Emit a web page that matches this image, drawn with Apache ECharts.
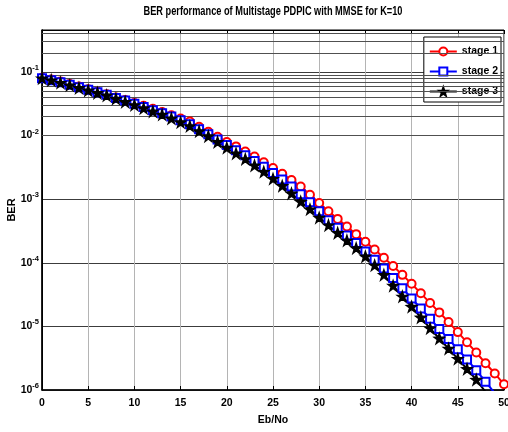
<!DOCTYPE html>
<html>
<head>
<meta charset="utf-8">
<script src="https://cdn.jsdelivr.net/npm/echarts@6/dist/echarts.min.js"></script>
<style>html,body{margin:0;padding:0;background:#fff;}#c{width:508px;height:432px;}</style>
</head>
<body>
<div id="c"></div>
<script>
const ebno = [0,1,2,3,4,5,6,7,8,9,10,11,12,13,14,15,16,17,18,19,20,21,22,23,24,25,26,27,28,29,30,31,32,33,34,35,36,37,38,39,40,41,42,43,44,45,46,47,48,49,50];
const stage1 = [0.0813,0.0759,0.0708,0.0646,0.0589,0.0537,0.0490,0.0447,0.0398,0.0363,0.0324,0.0295,0.0263,0.0234,0.0209,0.0186,0.0166,0.0138,0.0115,0.00955,0.00794,0.00676,0.00562,0.00468,0.00380,0.00309,0.00251,0.00200,0.00158,0.00117,0.000871,0.000646,0.000490,0.000372,0.000282,0.000214,0.000162,0.000120,8.91e-5,6.46e-5,4.68e-5,3.31e-5,2.34e-5,1.66e-5,1.17e-5,8.13e-6,5.62e-6,3.89e-6,2.63e-6,1.82e-6,1.23e-6];
const stage2 = [0.0794,0.0741,0.0692,0.0631,0.0575,0.0525,0.0479,0.0437,0.0389,0.0355,0.0316,0.0282,0.0251,0.0224,0.0200,0.0174,0.0151,0.0126,0.0105,0.00871,0.00708,0.00589,0.00490,0.00398,0.00324,0.00257,0.00204,0.00158,0.00120,0.000891,0.000646,0.000468,0.000355,0.000269,0.000204,0.000151,0.000112,8.13e-5,5.75e-5,3.98e-5,2.75e-5,1.91e-5,1.32e-5,9.12e-6,6.31e-6,4.37e-6,3.02e-6,2.04e-6,1.35e-6,8.91e-7,5.89e-7];
const stage3 = [0.0794,0.0741,0.0676,0.0617,0.0562,0.0513,0.0468,0.0427,0.0380,0.0339,0.0302,0.0269,0.0240,0.0214,0.0186,0.0162,0.0141,0.0117,0.00977,0.00794,0.00646,0.00525,0.00427,0.00339,0.00269,0.00209,0.00162,0.00123,0.000912,0.000692,0.000513,0.000389,0.000295,0.000224,0.000170,0.000126,9.12e-5,6.46e-5,4.37e-5,2.95e-5,2.04e-5,1.38e-5,9.33e-6,6.46e-6,4.47e-6,3.09e-6,2.14e-6,1.45e-6,9.33e-7,6.31e-7,4.27e-7];
const seriesNames = ['stage 1','stage 2','stage 3'];
const titleText = 'BER performance of Multistage PDPIC with MMSE for K=10';
const xName = 'Eb/No';
const yName = 'BER';
const yMin = 1e-6, yMax = 0.457;

const FONT = '"Liberation Sans",Arial,sans-serif';
const star = 'path://M50,0 L61.8,36.2 L100,38.2 L69.1,61.8 L80.9,100 L50,76.4 L19.1,100 L30.9,61.8 L0,38.2 L38.2,36.2 Z';

// minor log grid line positions (2..9 x 10^k)
const minorGrid = [];
for (let k = -6; k <= -1; k++) {
  for (let m = 2; m <= 9; m++) {
    const v = m * Math.pow(10, k);
    if (v < yMax) minorGrid.push({ yAxis: v });
  }
}

// title is drawn condensed (narrow font look): fit to reference width
const titleFont = 'bold 12px ' + FONT;
const cv = document.createElement('canvas').getContext('2d');
cv.font = titleFont;
const titleScale = 259 / cv.measureText(titleText).width;

const chart = echarts.init(document.getElementById('c'), null, { renderer: 'canvas' });
const mk = (name, data, color, symbol, size) => ({
  name: name, type: 'line',
  data: ebno.map((x, i) => [x, data[i]]),
  symbol: symbol, symbolSize: size,
  showAllSymbol: true,
  color: color,
  lineStyle: { color: color, width: 2 },
  itemStyle: { color: color, borderColor: color, borderWidth: 1.5 },
  clip: true, z: 5
});
chart.setOption({
  animation: false,
  backgroundColor: '#fff',
  textStyle: { fontFamily: FONT },
  graphic: [{
    type: 'text', x: 273, y: 12, scaleX: titleScale, silent: true,
    style: { text: titleText, font: titleFont, fill: '#000', textAlign: 'center', textVerticalAlign: 'middle', align: 'center', verticalAlign: 'middle' }
  }],
  grid: { left: 42, right: 4, top: 30, bottom: 42, outerBoundsMode: 'none', containLabel: false, show: true, borderColor: '#000', borderWidth: 1, backgroundColor: 'transparent' },
  legend: {
    data: seriesNames, orient: 'vertical', right: 7, top: 37,
    backgroundColor: '#fff', borderColor: '#000', borderWidth: 1,
    padding: [9, 3, 5, 5], itemWidth: 27, itemHeight: 10, itemGap: 9,
    textStyle: { fontFamily: FONT, fontSize: 10.5, fontWeight: 'bold', color: '#000' }
  },
  xAxis: [{
    type: 'value', min: 0, max: 50, interval: 5,
    name: xName, nameLocation: 'middle', nameGap: 25, nameMoveOverlap: false,
    nameTextStyle: { fontFamily: FONT, fontSize: 10.5, fontWeight: 'bold', color: '#000' },
    axisLine: { show: true, lineStyle: { color: '#000', width: 1.5 } },
    axisTick: { show: true, inside: true, length: 4, lineStyle: { color: '#000' } },
    axisLabel: { fontFamily: FONT, fontSize: 10.5, fontWeight: 'bold', color: '#000', margin: 8 },
    splitLine: { show: true, lineStyle: { color: '#b4b4b4', width: 1 } }
  }, {
    type: 'value', min: 0, max: 50, interval: 5, position: 'top',
    axisLine: { show: true, lineStyle: { color: '#000' } },
    axisTick: { show: true, inside: true, length: 4, lineStyle: { color: '#000' } },
    axisLabel: { show: false }, splitLine: { show: false }
  }],
  yAxis: [{
    type: 'log', logBase: 10, min: yMin, max: yMax,
    name: yName, nameLocation: 'middle', nameGap: 25, nameRotate: 90, nameMoveOverlap: false,
    nameTextStyle: { fontFamily: FONT, fontSize: 11, fontWeight: 'bold', color: '#000' },
    axisLine: { show: true, lineStyle: { color: '#000', width: 1.5 } },
    axisTick: { show: false },
    axisLabel: {
      margin: 3, showMaxLabel: false,
      formatter: function (v) {
        const l = Math.log10(v), e = Math.round(l);
        if (Math.abs(l - e) > 1e-6) return '';
        return '{b|10}{s|' + e + '}';
      },
      rich: {
        b: { fontFamily: FONT, fontSize: 10.5, fontWeight: 'bold', color: '#000' },
        s: { fontFamily: FONT, fontSize: 7.5, fontWeight: 'bold', color: '#000', padding: [0, 0, 8, 0] }
      }
    },
    splitLine: { show: true, lineStyle: { color: '#3c3c3c', width: 1 } }
  }, {
    type: 'log', logBase: 10, min: yMin, max: yMax, position: 'right',
    axisLine: { show: true, lineStyle: { color: '#000' } },
    axisTick: { show: false }, axisLabel: { show: false }, splitLine: { show: false }
  }],
  series: [
    {
      name: 'grid', type: 'line', data: [], z: 1, silent: true,
      markLine: {
        silent: true, symbol: ['none', 'none'], animation: false,
        label: { show: false },
        lineStyle: { color: '#505050', width: 1, type: 'solid' },
        data: minorGrid
      }
    },
    mk(seriesNames[0], stage1, '#ff0000', 'emptyCircle', 8),
    mk(seriesNames[1], stage2, '#0000ff', 'emptyRect', 8),
    mk(seriesNames[2], stage3, '#000000', star, 10)
  ]
});
</script>
</body>
</html>
